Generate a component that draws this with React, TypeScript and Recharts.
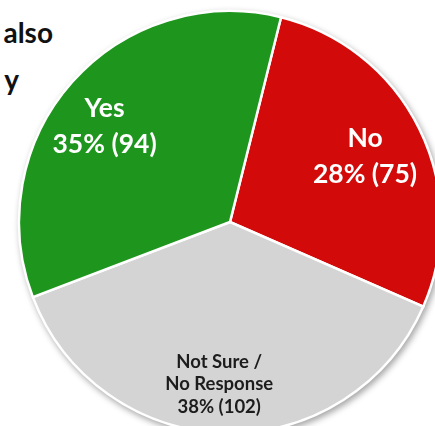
import { PieChart, Pie, Cell } from 'recharts';

const categories = ['No', 'Not Sure / No Response', 'Yes'];
const counts = [75, 102, 94];
const percents = [28, 38, 35];
const colors = ['#d20a0a', '#d4d4d4', '#1e961e'];
const labelLines = [['No'], ['Not Sure /', 'No Response'], ['Yes']];
const titleFragments = ['also', 'y'];

const data = categories.map((name, i) => ({ name, value: counts[i] }));

const RADIAN = Math.PI / 180;

function SliceLabel(props: any) {
  const { cx, cy, midAngle, outerRadius, index } = props;
  const r = outerRadius * 0.75;
  // nudge labels a little left/down like the original
  const x = cx + r * Math.cos(-midAngle * RADIAN) - 7;
  const y = cy + r * Math.sin(-midAngle * RADIAN) + (index === 2 ? 8 : 3);
  const lines = [...labelLines[index], `${percents[index]}% (${counts[index]})`];
  const isGray = index === 1;
  const size = isGray ? 18.5 : 26.5;
  const gap = isGray ? 22.5 : 36;
  const top = y - ((lines.length - 1) * gap) / 2;
  return (
    <text
      x={x}
      y={top}
      textAnchor="middle"
      dominantBaseline="central"
      fill={isGray ? '#1c1c1c' : '#ffffff'}
      fontFamily="Lato, sans-serif"
      fontWeight={700}
      fontSize={size}
    >
      {lines.map((l, i) => (
        <tspan key={i} x={x} dy={i === 0 ? 0 : gap}>
          {l}
        </tspan>
      ))}
    </text>
  );
}

export default function App() {
  return (
    <div
      style={{
        position: 'fixed',
        left: 0,
        top: 0,
        width: 435,
        height: 426,
        overflow: 'hidden',
        background: '#ffffff',
      }}
    >
      <svg width={435} height={426} style={{ position: 'absolute', left: 0, top: 0 }}>
        <text x={53} y={43} textAnchor="end" fontFamily="Lato, sans-serif" fontWeight={700} fontSize={28} fill="#111">
          {titleFragments[0]}
        </text>
        <text x={19} y={90} textAnchor="end" fontFamily="Lato, sans-serif" fontWeight={700} fontSize={28} fill="#111">
          {titleFragments[1]}
        </text>
      </svg>
      <div style={{ position: 'absolute', left: 0, top: 0, filter: 'drop-shadow(2px 3px 3px rgba(0,0,0,0.35))' }}>
        <PieChart width={435} height={426} margin={{ top: 0, right: 0, bottom: 0, left: 0 }}>
          <Pie
            data={data}
            dataKey="value"
            nameKey="name"
            cx={230}
            cy={222}
            outerRadius={211}
            startAngle={76}
            endAngle={-284}
            stroke="#ffffff"
            strokeWidth={2.5}
            labelLine={false}
            label={SliceLabel}
            isAnimationActive={false}
          >
            {data.map((d, i) => (
              <Cell key={d.name} fill={colors[i]} />
            ))}
          </Pie>
        </PieChart>
      </div>
    </div>
  );
}
